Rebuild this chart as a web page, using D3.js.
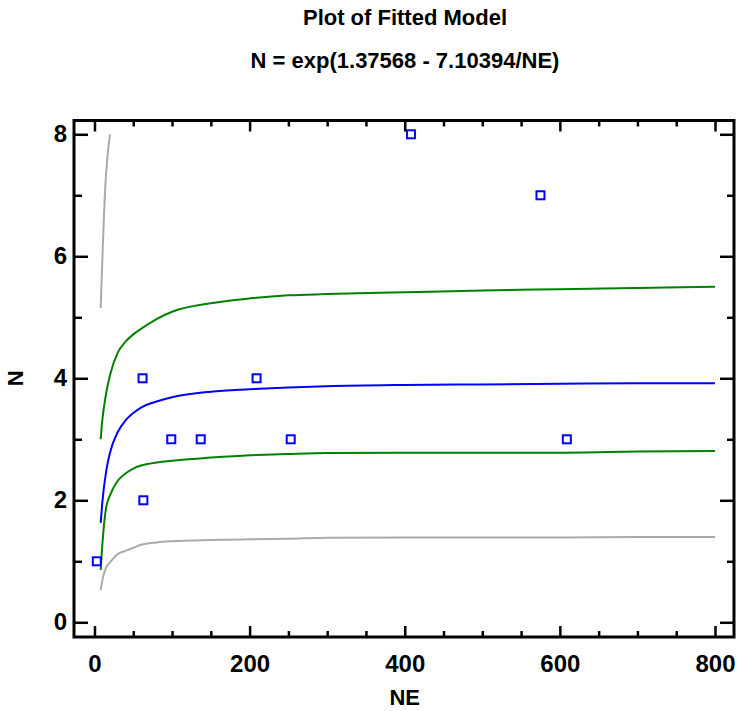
<!DOCTYPE html>
<html>
<head>
<meta charset="utf-8">
<script src="https://cdn.jsdelivr.net/npm/d3@7"></script>
<style>
  body { margin: 0; background: #fff; }
  svg text { font-family: "Liberation Sans", Arial, sans-serif; font-weight: bold; fill: #000; }
</style>
</head>
<body>
<svg id="chart" width="738" height="711"></svg>
<script>
// observed points
const obsNE = [3, 62, 63, 99, 137, 209, 253, 408, 575, 609];
const obsN = [1, 4, 2, 3, 3, 4, 3, 8, 7, 3];

// curve sample positions
const curveNE = [8, 10, 15, 20, 30, 40, 50, 60, 80, 100, 150, 200, 250, 300, 400, 500, 600, 700, 800];
const fitN = [1.63, 1.95, 2.47, 2.78, 3.12, 3.31, 3.43, 3.52, 3.62, 3.69, 3.78, 3.82, 3.85, 3.87, 3.89, 3.90, 3.91, 3.92, 3.92];
const confLow = [0.86, 1.25, 1.88, 2.08, 2.32, 2.44, 2.52, 2.57, 2.62, 2.65, 2.70, 2.74, 2.76, 2.775, 2.78, 2.78, 2.78, 2.80, 2.81];
const confHigh = [3.0, 3.3, 3.75, 4.05, 4.42, 4.60, 4.72, 4.81, 4.97, 5.09, 5.23, 5.31, 5.36, 5.38, 5.41, 5.44, 5.46, 5.48, 5.50];
const predLow = [0.53, 0.68, 0.90, 0.98, 1.12, 1.17, 1.22, 1.27, 1.31, 1.33, 1.35, 1.36, 1.37, 1.385, 1.39, 1.39, 1.39, 1.40, 1.40];
const predHighNE = [8, 14, 20];
const predHigh = [5.15, 7.15, 8.0];

const xMajor = [0, 200, 400, 600, 800];
const xMinor = [50, 100, 150, 250, 300, 350, 450, 500, 550, 650, 700, 750];
const yMajor = [0, 2, 4, 6, 8];
const yMinor = [1, 3, 5, 7];

const titleLines = ["Plot of Fitted Model", "N = exp(1.37568 - 7.10394/NE)"];

const svg = d3.select("#chart");
const pl = 74, pr = 734, pt = 120.5, pb = 637;

const x = d3.scaleLinear().domain([-26.4, 824.5]).range([pl, pr]);
const y = d3.scaleLinear().domain([-0.241, 8.226]).range([pb, pt]);

// titles
svg.selectAll("text.title")
  .data(titleLines)
  .enter().append("text")
  .attr("class", "title")
  .attr("x", 405)
  .attr("y", (d, i) => 25 + i * 43)
  .attr("text-anchor", "middle")
  .style("font-size", "22px")
  .text(d => d);

const plot = svg.append("g");

// curves
const line = d3.line().curve(d3.curveMonotoneX).x(d => x(d[0])).y(d => y(d[1]));
const curves = [
  { xs: curveNE, ys: predLow, color: "#aaaaaa" },
  { xs: predHighNE, ys: predHigh, color: "#aaaaaa" },
  { xs: curveNE, ys: confLow, color: "#008000" },
  { xs: curveNE, ys: confHigh, color: "#008000" },
  { xs: curveNE, ys: fitN, color: "#0000ff" }
];
curves.forEach(c => {
  plot.append("path")
    .datum(c.xs.map((v, i) => [v, c.ys[i]]))
    .attr("d", line)
    .attr("fill", "none")
    .attr("stroke", c.color)
    .attr("stroke-width", 2);
});

// points
plot.selectAll("rect.pt")
  .data(obsNE.map((v, i) => [v, obsN[i]]))
  .enter().append("rect")
  .attr("class", "pt")
  .attr("x", d => x(d[0]) - 4)
  .attr("y", d => y(d[1]) - 4)
  .attr("width", 8)
  .attr("height", 8)
  .attr("fill", "none")
  .attr("stroke", "#0000ff")
  .attr("stroke-width", 2);

// axes (ticks point inward)
function addAxis(axis, tx, ty) {
  const g = svg.append("g").attr("transform", `translate(${tx},${ty})`).call(axis);
  g.select(".domain").remove();
  g.selectAll(".tick line").attr("stroke", "#000").attr("stroke-width", 2.5);
  g.selectAll("text").style("font-size", "24px").attr("fill", "#000");
  return g;
}

addAxis(d3.axisBottom(x).tickValues(xMajor).tickSize(-11).tickPadding(18).tickFormat(d3.format("d")), 0, pb);
addAxis(d3.axisBottom(x).tickValues(xMinor).tickSize(-6).tickFormat(""), 0, pb);
addAxis(d3.axisTop(x).tickValues(xMajor).tickSize(-11).tickFormat(""), 0, pt);
addAxis(d3.axisTop(x).tickValues(xMinor).tickSize(-6).tickFormat(""), 0, pt);
addAxis(d3.axisLeft(y).tickValues(yMajor).tickSize(-14).tickPadding(7).tickFormat(d3.format("d")), pl, 0);
addAxis(d3.axisLeft(y).tickValues(yMinor).tickSize(-8).tickFormat(""), pl, 0);
addAxis(d3.axisRight(y).tickValues(yMajor).tickSize(-14).tickFormat(""), pr, 0);
addAxis(d3.axisRight(y).tickValues(yMinor).tickSize(-7).tickFormat(""), pr, 0);

// frame
svg.append("rect")
  .attr("x", pl).attr("y", pt)
  .attr("width", pr - pl).attr("height", pb - pt)
  .attr("fill", "none").attr("stroke", "#000").attr("stroke-width", 3);

// axis titles
svg.append("text")
  .attr("x", x(400)).attr("y", 705)
  .attr("text-anchor", "middle")
  .style("font-size", "22px")
  .text("NE");
svg.append("text")
  .attr("transform", `translate(23,${y(4)}) rotate(-90)`)
  .attr("text-anchor", "middle")
  .style("font-size", "22px")
  .text("N");
</script>
</body>
</html>
